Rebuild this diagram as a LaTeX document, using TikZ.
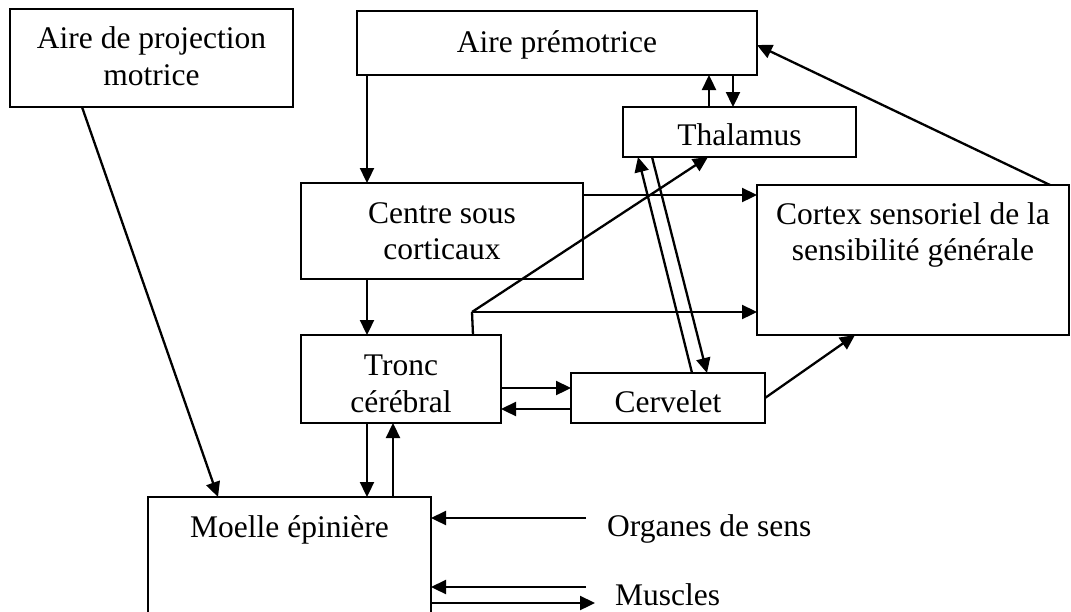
\documentclass[tikz,border=0pt]{standalone}
\usepackage{fontspec}
\setmainfont{Liberation Serif}
\usetikzlibrary{arrows.meta,calc}
\begin{document}
\begin{tikzpicture}[x=1pt,y=-1pt,
  box/.style={draw,line width=2pt,rectangle,inner sep=0pt,outer sep=0pt},
  txt/.style={inner sep=0pt,anchor=base,font=\fontsize{31.5}{37}\selectfont},
  ltxt/.style={inner sep=0pt,anchor=base west,font=\fontsize{31.5}{37}\selectfont},
  arr/.style={line width=2.3pt,-{Triangle[length=15pt,width=14pt]}},
  ln/.style={line width=2.3pt}]
\useasboundingbox[fill=white] (0,0) rectangle (1071,611);
\clip (0,0) rectangle (1071,611);
% boxes
\node[box,minimum width=283pt,minimum height=98pt] (proj) at (151.5,58) {};
\node[box,minimum width=400pt,minimum height=64pt] (premot) at (557,43) {};
\node[box,minimum width=233pt,minimum height=50pt] (thal) at (739.5,132) {};
\node[box,minimum width=282pt,minimum height=96pt] (centre) at (442,231) {};
\node[box,minimum width=312pt,minimum height=150pt] (cortex) at (913,260) {};
\node[box,minimum width=200pt,minimum height=88pt] (tronc) at (401,379) {};
\node[box,minimum width=194pt,minimum height=50pt] (cerv) at (668,398) {};
\node[box,minimum width=283pt,minimum height=160pt] (moelle) at (289.5,577) {};
% texts
\node[txt] (t1a) at (151.5,48) {Aire de projection};
\node[txt] (t1b) at (151.5,85) {motrice};
\node[txt] (t2) at (557,52) {Aire prémotrice};
\node[txt] (t3) at (739.5,145) {Thalamus};
\node[txt] (t4a) at (442,223) {Centre sous};
\node[txt] (t4b) at (442,259) {corticaux};
\node[txt] (t5a) at (913,224) {Cortex sensoriel de la};
\node[txt] (t5b) at (913,260) {sensibilité générale};
\node[txt] (t6a) at (401,375) {Tronc};
\node[txt] (t6b) at (401,412) {cérébral};
\node[txt] (t7) at (668,412) {Cervelet};
\node[txt] (t8) at (289.5,537) {Moelle épinière};
\node[ltxt] (org) at (607,536) {Organes de sens};
\node[ltxt] (mus) at (615,605) {Muscles};
% coordinates
\coordinate (bend) at (472,312);
\coordinate (orgS) at (586,518);
\coordinate (musS) at (586,587);
\coordinate (musE) at (595,603);
% connectors
\draw[arr] ($(premot.south west)+(10,0)$) -- ($(centre.north west)+(66,0)$);
\draw[arr] ($(thal.north west)+(86,0)$) -- ($(premot.south west)+(352,0)$);
\draw[arr] ($(premot.south west)+(376,0)$) -- ($(thal.north west)+(110,0)$);
\draw[arr] ($(thal.south west)+(29,0)$) -- ($(cerv.north west)+(136,0)$);
\draw[arr] ($(cerv.north west)+(121,0)$) -- ($(thal.south west)+(15,0)$);
\draw[arr] ($(centre.north east)+(0,12)$) -- ($(cortex.north west)+(0,10)$);
\draw[arr] ($(centre.south west)+(66,0)$) -- ($(tronc.north west)+(66,0)$);
\draw[ln] ($(tronc.north west)+(172,0)$) -- (bend);
\draw[arr] (bend) -- ($(thal.south west)+(85,0)$);
\draw[arr] (bend) -- (bend -| cortex.west);
\draw[arr] ($(tronc.north east)+(0,53)$) -- ($(cerv.north west)+(0,15)$);
\draw[arr] ($(cerv.north west)+(0,36)$) -- ($(tronc.north east)+(0,74)$);
\draw[arr] ($(cerv.north east)+(0,25)$) -- ($(cortex.south west)+(98,0)$);
\draw[arr] ($(cortex.north east)+(-19,0)$) -- ($(premot.north east)+(0,34)$);
\draw[arr] ($(proj.south west)+(72,0)$) -- ($(moelle.north west)+(70,0)$);
\draw[arr] ($(tronc.south west)+(66,0)$) -- ($(moelle.north west)+(219,0)$);
\draw[arr] ($(moelle.north west)+(245,0)$) -- ($(tronc.south west)+(92,0)$);
\draw[arr] (orgS) -- (orgS -| moelle.east);
\draw[arr] (musS) -- (musS -| moelle.east);
\draw[arr] (musE -| moelle.east) -- (musE);
\end{tikzpicture}
\end{document}
